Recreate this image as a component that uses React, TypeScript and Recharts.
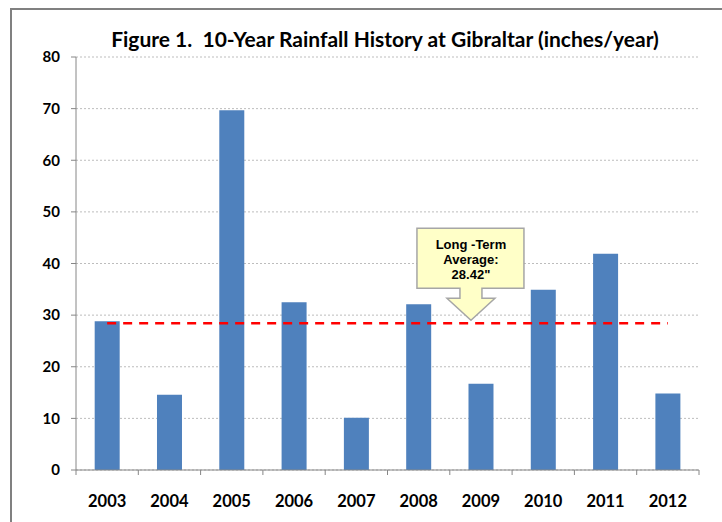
import React from "react"
import { BarChart, Bar, XAxis, YAxis, CartesianGrid, ReferenceLine, ReferenceDot } from "recharts"

const years = ["2003", "2004", "2005", "2006", "2007", "2008", "2009", "2010", "2011", "2012"]
const rainfall = [28.8, 14.6, 69.7, 32.5, 10.1, 32.1, 16.7, 34.9, 41.9, 14.8]
const yTicks = [0, 10, 20, 30, 40, 50, 60, 70, 80]
const longTermAverage = 28.42
const calloutLines = ["Long -Term", "Average:", "28.42\""]

const data = years.map((year, i) => ({ year, rain: rainfall[i] }))

const AXIS_GRAY = "#868686"

const YearTick = (props: any) => {
  const { x, y, payload, index, visibleTicksCount, width } = props
  const half = payload?.offset || width / visibleTicksCount / 2
  return (
    <g>
      <line x1={x - half} y1={y} x2={x - half} y2={y + 5} stroke={AXIS_GRAY} />
      {index === visibleTicksCount - 1 && (
        <line x1={x + half} y1={y} x2={x + half} y2={y + 5} stroke={AXIS_GRAY} />
      )}
      <text
        x={x}
        y={y + 37}
        textAnchor="middle"
        fontFamily="Lato, sans-serif"
        fontWeight="bold"
        fontSize={16.5}
        fill="#000"
      >
        {payload.value}
      </text>
    </g>
  )
}

const Callout = (props: any) => {
  const { cx, cy } = props
  const tipX = cx - 10
  const tipY = cy - 3
  const boxTop = tipY - 92
  const boxBottom = tipY - 32
  const path = [
    `M ${tipX - 54} ${boxTop}`,
    `L ${tipX + 53} ${boxTop}`,
    `L ${tipX + 53} ${boxBottom}`,
    `L ${tipX + 11} ${boxBottom}`,
    `L ${tipX + 11} ${tipY - 22}`,
    `L ${tipX + 24} ${tipY - 22}`,
    `L ${tipX} ${tipY}`,
    `L ${tipX - 24} ${tipY - 22}`,
    `L ${tipX - 11} ${tipY - 22}`,
    `L ${tipX - 11} ${boxBottom}`,
    `L ${tipX - 54} ${boxBottom}`,
    "Z",
  ].join(" ")
  return (
    <g>
      <path d={path} fill="#FFFFC8" stroke="#A6A6A6" strokeWidth={1.5} />
      {calloutLines.map((line, i) => (
        <text
          key={i}
          x={tipX}
          y={boxTop + 21 + i * 15}
          textAnchor="middle"
          fontFamily="'Liberation Sans', Arial, sans-serif"
          fontWeight="bold"
          fontSize={13}
          fill="#000"
        >
          {line}
        </text>
      ))}
    </g>
  )
}

export default function App() {
  return (
    <div
      style={{
        position: "fixed",
        left: 0,
        top: 0,
        width: 722,
        height: 522,
        overflow: "hidden",
        background: "#fff",
      }}
    >
      <div
        style={{
          position: "absolute",
          left: 10,
          top: 8,
          width: 800,
          height: 600,
          border: "2px solid #808080",
        }}
      />
      <svg style={{ position: "absolute", left: 0, top: 0 }} width={722} height={60}>
        <text
          x={385}
          y={47}
          textAnchor="middle"
          fontFamily="Lato, sans-serif"
          fontWeight="bold"
          fontSize={21}
          fill="#000"
          style={{ whiteSpace: "pre" }}
        >
          Figure 1.  10-Year Rainfall History at Gibraltar (inches/year)
        </text>
      </svg>
      <div style={{ position: "absolute", left: 0, top: 0 }}>
        <BarChart
          width={722}
          height={522}
          data={data}
          margin={{ top: 57, right: 23, bottom: 0, left: 0 }}
          barCategoryGap="30%"
        >
          <CartesianGrid vertical={false} stroke="#BDBDBD" strokeDasharray="2 2" />
          <XAxis
            dataKey="year"
            height={52}
            stroke={AXIS_GRAY}
            tickLine={false}
            tickSize={0}
            tickMargin={0}
            tick={<YearTick />}
            interval={0}
          />
          <YAxis
            width={76}
            domain={[0, 80]}
            ticks={yTicks}
            interval={0}
            stroke={AXIS_GRAY}
            tickSize={5}
            tickMargin={11}
            tick={{ fill: "#000", fontFamily: "Lato, sans-serif", fontWeight: "bold", fontSize: 15 }}
          />
          <Bar dataKey="rain" fill="#4F81BD" isAnimationActive={false} />
          <ReferenceLine
            segment={[
              { x: years[0], y: longTermAverage },
              { x: years[years.length - 1], y: longTermAverage },
            ]}
            stroke="#FF0000"
            strokeWidth={2.5}
            strokeDasharray="9 7"
          />
          <ReferenceDot x="2009" y={longTermAverage} shape={<Callout />} />
        </BarChart>
      </div>
    </div>
  )
}
